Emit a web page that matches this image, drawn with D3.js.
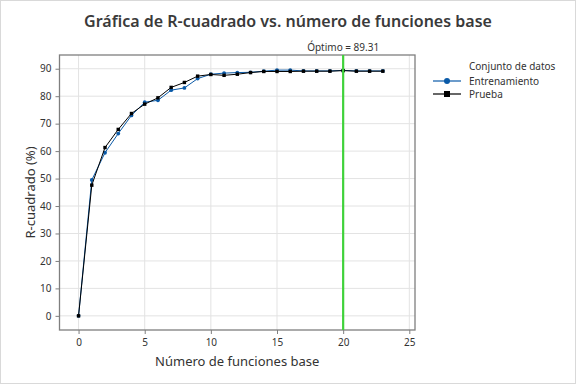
<!DOCTYPE html>
<html><head><meta charset="utf-8">
<script src="https://cdn.jsdelivr.net/npm/d3@7"></script>
<style>body{margin:0;background:#fff}svg{display:block}text{font-family:"Noto Sans","Open Sans",sans-serif;fill:#333}</style>
</head><body>
<svg id="c" width="576" height="384"></svg>
<script>
const numFunctions = [0,1,2,3,4,5,6,7,8,9,10,11,12,13,14,15,16,17,18,19,20,21,22,23];
const training = [0,49.5,59.4,66.4,73.0,77.8,78.5,82.2,83.0,86.4,88.0,88.4,88.6,88.7,89.1,89.5,89.5,89.2,89.2,89.2,89.4,89.2,89.2,89.2];
const test = [0,47.6,61.3,67.9,73.7,77.1,79.4,83.2,85.0,87.3,87.9,87.6,88.0,88.6,89.0,89.0,89.0,89.1,89.1,89.1,89.31,89.1,89.1,89.1];
const xTicks = [0,5,10,15,20,25];
const yTicks = [0,10,20,30,40,50,60,70,80,90];
const optimalX = 20, optimalValue = 89.31;
const seriesNames = ["Entrenamiento","Prueba"];

const svg = d3.select("#c");
svg.append("rect").attr("x",0.5).attr("y",0.5).attr("width",575).attr("height",383).attr("fill","#fff").attr("stroke","#d9d9d9");
const L=59.5,R=415,T=55,B=330;
const x = d3.scaleLinear().domain([-1.44,25.43]).range([L,R]);
const y = d3.scaleLinear().domain([-5.15,95.0]).range([B,T]);

const g = svg.append("g");
g.selectAll(".gx").data(xTicks).join("line").attr("x1",d=>x(d)).attr("x2",d=>x(d)).attr("y1",T).attr("y2",B).attr("stroke","#e3e3e3");
g.selectAll(".gy").data(yTicks).join("line").attr("y1",d=>y(d)).attr("y2",d=>y(d)).attr("x1",L).attr("x2",R).attr("stroke","#e3e3e3");

const xa = svg.append("g").attr("transform",`translate(0,${B})`).call(d3.axisBottom(x).tickValues(xTicks).tickSize(4).tickPadding(5).tickSizeOuter(0));
const ya = svg.append("g").attr("transform",`translate(${L},0)`).call(d3.axisLeft(y).tickValues(yTicks).tickSize(4).tickPadding(4).tickSizeOuter(0));
[xa,ya].forEach(a=>{a.select(".domain").remove();a.selectAll("line").attr("stroke","#7f7f7f");a.selectAll("text").attr("font-size",10).attr("fill","#333").style("font-family","'Noto Sans',sans-serif");});

svg.append("rect").attr("x",L).attr("y",T).attr("width",R-L).attr("height",B-T).attr("fill","none").attr("stroke","#7f7f7f").attr("stroke-width",1.3);

const blue="#0a5aa8";
const line = d3.line().x((d,i)=>x(numFunctions[i])).y(d=>y(d));
svg.append("path").datum(training).attr("d",line).attr("fill","none").attr("stroke",blue).attr("stroke-width",1);
svg.selectAll(".pt").data(training).join("circle").attr("cx",(d,i)=>x(numFunctions[i])).attr("cy",d=>y(d)).attr("r",1.9).attr("fill",blue);
svg.append("path").datum(test).attr("d",line).attr("fill","none").attr("stroke","#000").attr("stroke-width",1);
svg.selectAll(".ps").data(test).join("rect").attr("x",(d,i)=>x(numFunctions[i])-1.7).attr("y",d=>y(d)-1.7).attr("width",3.4).attr("height",3.4).attr("fill","#000");

svg.append("line").attr("x1",x(optimalX)).attr("x2",x(optimalX)).attr("y1",T).attr("y2",B).attr("stroke","#3fd23a").attr("stroke-width",2.2);
svg.append("text").attr("x",x(optimalX)).attr("y",51).attr("text-anchor","middle").attr("font-size",10).text("Óptimo = "+optimalValue.toFixed(2));

svg.append("text").attr("x",288).attr("y",27).attr("text-anchor","middle").attr("font-size",16).attr("font-weight",600).style("fill","#3a3a3a").text("Gráfica de R-cuadrado vs. número de funciones base");
svg.append("text").attr("x",(L+R)/2).attr("y",366).attr("text-anchor","middle").attr("font-size",13).text("Número de funciones base");
svg.append("text").attr("transform",`translate(35,${(T+B)/2}) rotate(-90)`).attr("text-anchor","middle").attr("font-size",13).text("R-cuadrado (%)");

const lg = svg.append("g");
lg.append("text").attr("x",469).attr("y",70).attr("font-size",10).text("Conjunto de datos");
lg.append("line").attr("x1",433).attr("x2",461).attr("y1",81).attr("y2",81).attr("stroke",blue).attr("stroke-width",1.2);
lg.append("circle").attr("cx",447).attr("cy",81).attr("r",3).attr("fill",blue);
lg.append("text").attr("x",469).attr("y",84.5).attr("font-size",10).text(seriesNames[0]);
lg.append("line").attr("x1",433).attr("x2",461).attr("y1",94).attr("y2",94).attr("stroke","#000").attr("stroke-width",1.2);
lg.append("rect").attr("x",444).attr("y",91).attr("width",6).attr("height",6).attr("fill","#000");
lg.append("text").attr("x",469).attr("y",97.5).attr("font-size",10).text(seriesNames[1]);
</script></body></html>
